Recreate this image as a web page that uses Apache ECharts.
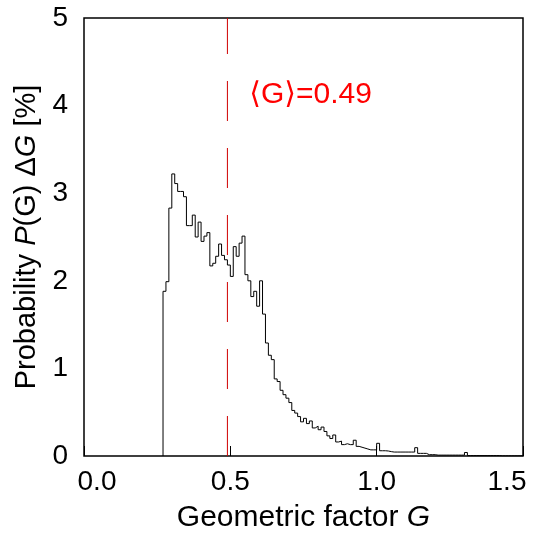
<!DOCTYPE html>
<html>
<head>
<meta charset="utf-8">
<script src="https://cdn.jsdelivr.net/npm/echarts@6/dist/echarts.min.js"></script>
<style>
html,body{margin:0;padding:0;background:#fff;}
#chart{width:534px;height:541px;}
</style>
</head>
<body>
<div id="chart"></div>
<script>
// ---- data ----
const binStart = 0.27;
const binWidth = 0.01;
const probs = [
  1.88, 1.99, 2.83, 3.22, 3.11, 3.02, 3.02, 2.96, 2.63, 2.63,
  2.75, 2.50, 2.67, 2.45, 2.51, 2.55, 2.17, 2.20, 2.28, 2.42,
  2.29, 2.24, 2.18, 2.05, 2.39, 2.28, 2.43, 2.51, 2.07, 2.00,
  1.82, 1.88, 1.71, 2.00, 1.62, 1.29, 1.15, 1.10, 0.88, 0.85,
  0.75, 0.70, 0.66, 0.61, 0.52, 0.49, 0.45, 0.39, 0.43, 0.37,
  0.40, 0.32, 0.34, 0.30, 0.33, 0.28, 0.23, 0.20, 0.24, 0.16,
  0.17, 0.13, 0.14, 0.13, 0.13, 0.18, 0.11, 0.10, 0.09, 0.08,
  0.07, 0.07, 0.07, 0.145, 0.06, 0.06, 0.057, 0.05, 0.045, 0.045,
  0.045, 0.045, 0.045, 0.045, 0.045, 0.045, 0.095, 0.03, 0.03, 0.03,
  0.015, 0.015, 0.015, 0.01, 0.01, 0.01, 0.01, 0.01, 0.01, 0.01,
  0.01, 0.01, 0.01, 0.04, 0.005, 0.005, 0.005, 0.005, 0.005, 0.005,
  0.005, 0.005, 0.005, 0.005, 0.005, 0.002, 0.002, 0.002, 0.002, 0.002,
  0.002, 0.002, 0.002
];
const meanG = 0.49;
const meanLabel = '\u27E8G\u27E9=0.49';
const xTickLabels = ['0.0', '0.5', '1.0', '1.5'];
const yTickLabels = ['0', '1', '2', '3', '4', '5'];

// ---- build step points ----
const histPoints = [[binStart, 0]];
probs.forEach((v, i) => histPoints.push([+(binStart + i * binWidth).toFixed(4), v]));
histPoints.push([+(binStart + probs.length * binWidth).toFixed(4), probs[probs.length - 1]]);

const FONT = '"Liberation Sans", Arial, Helvetica, sans-serif';
const chart = echarts.init(document.getElementById('chart'), null, {renderer: 'canvas'});
chart.setOption({
  animation: false,
  backgroundColor: '#fff',
  textStyle: {fontFamily: FONT},
  grid: {left: 84, right: 11, top: 18, bottom: 85, show: true, borderColor: '#000', borderWidth: 1.5, backgroundColor: 'transparent'},
  xAxis: {
    type: 'value', min: 0, max: 1.5, interval: 0.5,
    name: 'Geometric factor {i|G}',
    nameLocation: 'middle', nameGap: 47,
    nameTextStyle: {fontSize: 30, color: '#000', fontFamily: FONT,
      rich: {i: {fontStyle: 'italic', fontSize: 30, color: '#000', fontFamily: FONT}}},
    axisLine: {show: false},
    axisTick: {show: true, inside: true, length: 10, lineStyle: {color: '#000', width: 1}},
    splitLine: {show: false},
    axisLabel: {
      fontSize: 28, color: '#000', margin: 12, fontFamily: FONT,
      formatter: function (v) {
        const idx = Math.round(v / 0.5);
        const s = xTickLabels[idx];
        if (idx === 0) return '{l|' + s + '}';
        if (idx === xTickLabels.length - 1) return '{r|' + s + '}';
        return s;
      },
      rich: {
        l: {fontSize: 28, color: '#000', fontFamily: FONT, padding: [0, 0, 0, 26]},
        r: {fontSize: 28, color: '#000', fontFamily: FONT, padding: [0, 32, 0, 0]}
      }
    }
  },
  yAxis: {
    type: 'value', min: 0, max: 5, interval: 1,
    name: 'Probability {i|P}(G) \u0394{i|G} [%]',
    nameLocation: 'middle', nameGap: 43,
    nameTextStyle: {fontSize: 29, color: '#000', fontFamily: FONT,
      rich: {i: {fontStyle: 'italic', fontSize: 29, color: '#000', fontFamily: FONT}}},
    axisLine: {show: false},
    axisTick: {show: false},
    splitLine: {show: false},
    axisLabel: {
      fontSize: 28, color: '#000', margin: 16, fontFamily: FONT,
      formatter: function (v) { return yTickLabels[Math.round(v)]; }
    }
  },
  series: [
    {
      type: 'line',
      step: 'end',
      data: histPoints,
      showSymbol: false,
      symbol: 'none',
      lineStyle: {color: '#000', width: 1},
      silent: true,
      z: 3
    },
    {
      type: 'line',
      data: [[meanG, 0], [meanG, 5]],
      showSymbol: false,
      symbol: 'none',
      lineStyle: {color: '#d00000', width: 1, type: [40, 27]},
      silent: true,
      z: 2,
      markPoint: {
        symbol: 'circle', symbolSize: 1,
        itemStyle: {color: 'rgba(0,0,0,0)'},
        silent: true,
        data: [{coord: [0.774, 4.12], value: meanLabel}],
        label: {show: true, position: 'inside', formatter: meanLabel, color: '#ff0000', fontSize: 30,
          fontFamily: '"Liberation Sans", "DejaVu Sans", sans-serif'}
      }
    }
  ]
});
</script>
</body>
</html>
